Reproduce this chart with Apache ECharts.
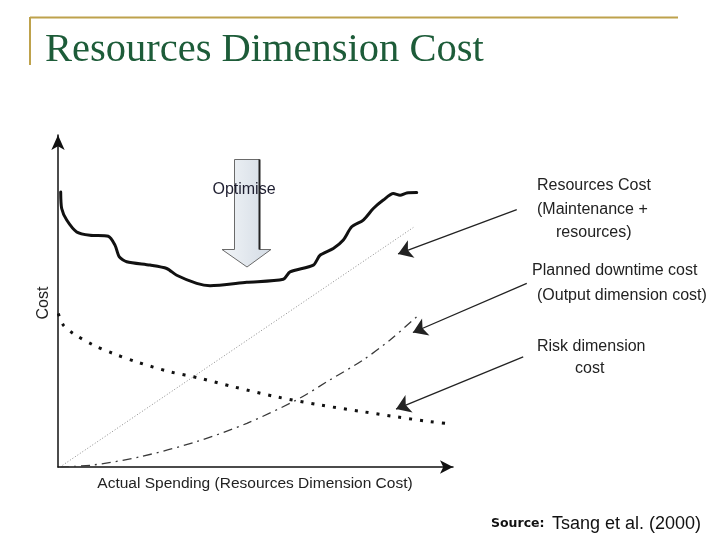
<!DOCTYPE html>
<html><head><meta charset="utf-8">
<script src="https://cdn.jsdelivr.net/npm/echarts@6/dist/echarts.min.js"></script>
<style>html,body{margin:0;padding:0;background:#fff}#c{width:720px;height:540px}</style>
</head><body><div id="c"></div>
<script>
// ---- data (abstract units: x = spending, y = cost) ----
const resourcesCost = [[0.67,81.2],[0.92,76.3],[2.17,72.9],[4.66,69.4],[7.98,68.4],[12.54,68.1],[14.21,65.5],[15.29,62.0],[17.13,60.6],[22.94,59.6],[27.11,58.6],[29.6,56.6],[34.59,54.2],[37.91,53.5],[47.06,54.5],[56.18,55.4],[57.86,57.6],[63.67,59.6],[65.34,62.5],[68.65,64.5],[71.15,67.0],[73.24,70.9],[76.13,72.9],[78.63,76.3],[81.12,78.8],[83.62,80.7],[85.29,80.2],[86.96,80.9],[89.45,81.0]];
const resourcesLine = [[0.5,0],[33.7,26.6],[88.6,70.7]];
const plannedDowntime = [[0.5,0],[8.8,0.6],[20.4,3.0],[34.6,7.5],[47.1,12.9],[59.5,19.8],[67.8,25.7],[76.1,31.6],[82.8,37.5],[89.4,44.3]];
const riskCost = [[0.07,45.3],[1.32,41.9],[3.82,39.4],[8.8,36.0],[13.79,33.5],[19.63,31.0],[27.93,28.1],[35.41,26.2],[43.72,23.7],[54.54,20.7],[65.34,18.3],[76.13,16.3],[84.46,14.8],[92.77,13.4],[98.18,12.7]];
const pointerFrom = [[114.4,76.0],[116.9,54.2],[116.0,32.5]];
const pointerTo = [[84.8,62.9],[88.5,39.7],[84.3,17.1]];
const titleText = 'Resources Dimension Cost';
const xName = 'Actual Spending (Resources Dimension Cost)';
const yName = 'Cost';
const resLabel = ['Resources Cost','(Maintenance +','resources)'];
const plannedLabel = ['Planned downtime cost','(Output dimension cost)'];
const riskLabel = ['Risk dimension','cost'];
const optimiseText = 'Optimise';
const sourceBold = 'Source:';
const sourceText = 'Tsang et al. (2000)';

const chart = echarts.init(document.getElementById('c'), null, {renderer:'canvas'});
const sans = '"Liberation Sans", Arial, sans-serif';

const graphics = [
  {type:'line', shape:{x1:30,y1:17.5,x2:678,y2:17.5}, style:{stroke:'#bea24c', lineWidth:2}},
  {type:'line', shape:{x1:30,y1:17,x2:30,y2:65}, style:{stroke:'#bea24c', lineWidth:2}},
  {type:'text', style:{text:titleText, x:45, y:50, fill:'#1d5c39', font:'40.5px "Liberation Serif", "Times New Roman", serif', verticalAlign:'middle'}},
  // Optimise block arrow
  {type:'polygon', z:5, shape:{points:[[234.5,159.5],[259.5,159.5],[259.5,249.5],[271,249.5],[247,267],[222,249.5],[234.5,249.5]]},
    style:{fill:new echarts.graphic.LinearGradient(0,0,1,0,[{offset:0,color:'#f2f5f8'},{offset:1,color:'#d3dbe4'}]), stroke:'#6a6a6a', lineWidth:1}},
  {type:'line', z:6, shape:{x1:259.5,y1:159.5,x2:259.5,y2:249.5}, style:{stroke:'#222', lineWidth:2}},
  {type:'text', z:10, style:{text:optimiseText, x:244, y:190, fill:'#1e1e30', font:'16px '+sans, align:'center', verticalAlign:'middle'}},
  {type:'text', z:10, style:{text:yName, x:0, y:0, fill:'#222', font:'16px '+sans, align:'center', verticalAlign:'middle'}, x:44, y:303, rotation:Math.PI/2},
  {type:'text', z:10, style:{text:xName, x:255, y:484, fill:'#222', font:'15.5px '+sans, align:'center', verticalAlign:'middle'}},
];
const lbl = (t,x,y) => ({type:'text', z:10, style:{text:t, x:x, y:y, fill:'#222', font:'16px '+sans, verticalAlign:'middle'}});
graphics.push(lbl(resLabel[0],537,186), lbl(resLabel[1],537,210), lbl(resLabel[2],556,233));
graphics.push(lbl(plannedLabel[0],532,271), lbl(plannedLabel[1],537,296));
graphics.push(lbl(riskLabel[0],537,347), lbl(riskLabel[1],575,369));
graphics.push({type:'text', z:10, style:{text:sourceBold, x:491, y:524, fill:'#111', font:'bold 12.5px "DejaVu Sans", Verdana, sans-serif', verticalAlign:'middle'}});
graphics.push({type:'text', z:10, style:{text:sourceText, x:552, y:524, fill:'#111', font:'18px '+sans, verticalAlign:'middle'}});

chart.setOption({
  animation:false,
  backgroundColor:'#fff',
  grid:{left:58, right:267, top:135, bottom:73, containLabel:false, outerBoundsMode:'none'},
  xAxis:{type:'value', min:0, max:98.5, axisTick:{show:false}, axisLabel:{show:false}, splitLine:{show:false},
    axisLine:{onZero:false, lineStyle:{color:'#111', width:1.5}, symbol:['none','arrow'], symbolSize:[10,13]}},
  yAxis:{type:'value', min:0, max:98, axisTick:{show:false}, axisLabel:{show:false}, splitLine:{show:false},
    axisLine:{onZero:false, lineStyle:{color:'#111', width:1.5}, symbol:['none','arrow'], symbolSize:[10,15]}},
  series:[
    {type:'line', data:resourcesLine, showSymbol:false, symbol:'none', lineStyle:{color:'#8a8a8a', width:1, type:[1,2]}, z:2},
    {type:'line', data:plannedDowntime, showSymbol:false, symbol:'none', smooth:0.3, lineStyle:{color:'#3a3a3a', width:1.3, type:[9,5,2,5]}, z:2},
    {type:'line', data:riskCost, showSymbol:false, symbol:'none', smooth:0.3, lineStyle:{color:'#111', width:3, type:[3,8]}, z:3},
    {type:'line', data:resourcesCost, showSymbol:false, symbol:'none', smooth:0.25, lineStyle:{color:'#111', width:3, cap:'round', join:'round'}, z:4},
    {type:'lines', coordinateSystem:'cartesian2d', clip:false, z:8,
      data: pointerFrom.map((f,i)=>({coords:[f, pointerTo[i]]})),
      symbol:['none','arrow'], symbolSize:[11,14],
      lineStyle:{color:'#222', width:1.3, opacity:1, curveness:0}}
  ],
  graphic:graphics
});
</script>
</body></html>
